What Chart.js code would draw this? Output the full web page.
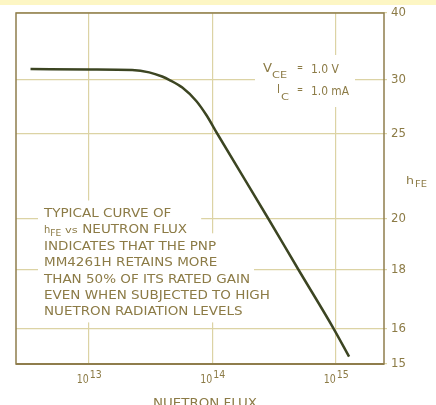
<!DOCTYPE html>
<html>
<head>
<meta charset="utf-8">
<script src="https://cdn.jsdelivr.net/npm/chart.js@4"></script>
<style>
  html, body { margin: 0; padding: 0; background: #fff; }
</style>
</head>
<body>
<canvas id="fluxChart" width="436" height="405"></canvas>
<script>
// neutron flux (x, log) vs hFE (y, on the graph paper's own non-linear scale)
const flux = [3.37e12, 1e13, 2.24e13, 3.08e13, 3.92e13, 4.47e13, 5.71e13, 7.41e13, 8.94e13, 1.10e14, 2.85e14, 5.0e14, 9.64e14, 1.28e15];
const hfe = [31.23, 31.17, 31.11, 30.83, 30.34, 29.97, 29.14, 27.81, 26.54, 25, 20, 18, 16, 15.2];
const fluxTicks = [1e13, 1e14, 1e15];
const fluxExponents = ['13', '14', '15'];
const hfeTicks = [40, 30, 25, 20, 18, 16, 15];
const noteLines = [
    'TYPICAL CURVE OF',
    'hFE vs NEUTRON FLUX',
    'INDICATES THAT THE PNP',
    'MM4261H RETAINS MORE',
    'THAN 50% OF ITS RATED GAIN',
    'EVEN WHEN SUBJECTED TO HIGH',
    'NUETRON RADIATION LEVELS'
];

// where each hFE ruling sits on the printed paper (fraction of plot height from the top)
const paperRulings = [0, 0.1895, 0.3447, 0.5869, 0.7322, 0.9003, 1];

// linear scale re-mapped onto the paper rulings; reciprocal between rulings
class PaperScale extends Chart.LinearScale {
    static id = 'paper';
    static defaults = {};
    _fracForValue(v) {
        let i = 0;
        while (i < hfeTicks.length - 2 && v < hfeTicks[i + 1]) i++;
        const a = 1 / hfeTicks[i], b = 1 / hfeTicks[i + 1];
        const t = (1 / v - a) / (b - a);
        return paperRulings[i] + t * (paperRulings[i + 1] - paperRulings[i]);
    }
    getPixelForValue(value) {
        if (value === null || value === undefined || isNaN(value)) return NaN;
        return this.top + this._fracForValue(value) * (this.bottom - this.top);
    }
    getValueForPixel(pixel) {
        const f = (pixel - this.top) / (this.bottom - this.top);
        let i = 0;
        while (i < paperRulings.length - 2 && f > paperRulings[i + 1]) i++;
        const t = (f - paperRulings[i]) / (paperRulings[i + 1] - paperRulings[i]);
        const a = 1 / hfeTicks[i], b = 1 / hfeTicks[i + 1];
        return 1 / (a + t * (b - a));
    }
}
Chart.register(PaperScale);

const FONT = "'Liberation Sans Narrow', 'DejaVu Sans Condensed', 'DejaVu Sans', sans-serif";
const inkColor = '#8c7b46';
const gridColor = '#dcd3a4';

// draw text, optionally squeezed/stretched to a target width; returns the drawn width
function drawText(ctx, text, x, y, size, width, align) {
    ctx.font = size + 'px ' + FONT;
    const w = ctx.measureText(text).width;
    const sx = width ? width / w : 1;
    const dw = w * sx;
    let left = x;
    if (align === 'right') left = x - dw;
    if (align === 'center') left = x - dw / 2;
    ctx.save();
    ctx.translate(left, y);
    ctx.scale(sx, 1);
    ctx.textAlign = 'left';
    ctx.textBaseline = 'alphabetic';
    ctx.fillText(text, 0, 0);
    ctx.restore();
    return dw;
}

const paperText = {
    id: 'paperText',
    beforeDraw(chart) {
        const ctx = chart.ctx;
        ctx.save();
        ctx.fillStyle = '#fdf6c4';
        ctx.fillRect(0, 0, chart.width, 5);
        ctx.restore();
    },
    beforeDatasetsDraw(chart) {
        const ctx = chart.ctx;
        const xs = chart.scales.x;
        ctx.save();

        // white cut-outs behind the labels
        ctx.fillStyle = '#fff';
        ctx.fillRect(255, 55, 100, 52);

        ctx.font = '12px ' + FONT;
        const sx = 206 / ctx.measureText(noteLines[4]).width;
        noteLines.forEach((line, i) => {
            const top = 208 + i * 16.4;
            ctx.font = '12px ' + FONT;
            const w = ctx.measureText(line).width * sx;
            const bottomPad = i === noteLines.length - 1 ? 16 : 9;
            ctx.fillStyle = '#fff';
            ctx.fillRect(38, top - 7.5, w + 10, 7.5 + bottomPad);
        });

        ctx.fillStyle = inkColor;
        noteLines.forEach((line, i) => {
            const base = 217 + i * 16.4;
            if (i === 1) {
                let x = 44;
                x += drawText(ctx, 'h', x, base, 11, null);
                x += drawText(ctx, 'FE', x, base + 3, 9, 11);
                x += drawText(ctx, ' vs ', x, base, 9.5, 20);
                ctx.font = '12px ' + FONT;
                drawText(ctx, 'NEUTRON FLUX', x + 1, base, 12, ctx.measureText('NEUTRON FLUX').width * sx);
            } else {
                ctx.font = '12px ' + FONT;
                drawText(ctx, line, 44, base, 12, ctx.measureText(line).width * sx);
            }
        });

        // test conditions
        drawText(ctx, 'V', 263, 72, 12, 9);
        drawText(ctx, 'CE', 272, 78, 9.5, 15);
        drawText(ctx, '=', 297, 71, 10, 6);
        drawText(ctx, '1.0 V', 311, 73, 12, 28);
        drawText(ctx, 'I', 277, 93, 12, 3);
        drawText(ctx, 'C', 281, 100, 9.5, 8);
        drawText(ctx, '=', 297, 93, 10, 6);
        drawText(ctx, '1.0 mA', 311, 95, 12, 38);

        // x tick labels with superscript exponents
        fluxTicks.forEach((v, i) => {
            const px = xs.getPixelForValue(v);
            drawText(ctx, '10', px, 383, 12, 12, 'right');
            drawText(ctx, fluxExponents[i], px + 1, 378, 10.5, 12);
        });
        drawText(ctx, 'NUETRON FLUX', 205, 407, 12, 104, 'center');

        // y axis title
        drawText(ctx, 'h', 406, 184, 11, 8);
        drawText(ctx, 'FE', 415, 187, 9, 12);

        ctx.restore();
    },
    afterDatasetsDraw(chart) {
        const { ctx, chartArea: a } = chart;
        ctx.save();
        ctx.strokeStyle = '#8f7d4c';
        ctx.lineWidth = 1.5;
        ctx.strokeRect(a.left, a.top, a.right - a.left, a.bottom - a.top);
        ctx.lineWidth = 2;
        ctx.beginPath();
        ctx.moveTo(a.left, a.bottom);
        ctx.lineTo(a.right, a.bottom);
        ctx.stroke();
        ctx.restore();
    }
};

const ctx = document.querySelector('#fluxChart').getContext('2d');
const fluxChart = new Chart(ctx, {
    type: 'line',
    data: {
        datasets: [{
            label: 'hFE',
            data: flux.map((f, i) => ({ x: f, y: hfe[i] })),
            borderColor: '#3c4522',
            borderWidth: 2.5,
            pointRadius: 0,
            cubicInterpolationMode: 'monotone',
            fill: false
        }]
    },
    options: {
        responsive: false,
        animation: false,
        layout: { padding: { left: 16, top: 13, right: 0, bottom: 0 } },
        plugins: {
            legend: { display: false },
            tooltip: { enabled: false }
        },
        scales: {
            x: {
                type: 'logarithmic',
                min: Math.pow(10, 12.41),
                max: Math.pow(10, 15.39),
                afterBuildTicks: (scale) => {
                    scale.ticks = fluxTicks.map(v => ({ value: v }));
                },
                afterFit: (scale) => { scale.height = 41; },
                ticks: { display: false },
                grid: { color: gridColor, lineWidth: 1.2, drawTicks: false },
                border: { display: false }
            },
            y: {
                type: 'paper',
                position: 'right',
                min: 15,
                max: 40,
                afterBuildTicks: (scale) => {
                    scale.ticks = hfeTicks.map(v => ({ value: v }));
                },
                afterFit: (scale) => { scale.width = 52; },
                ticks: {
                    callback: (v) => String(v),
                    color: inkColor,
                    font: { family: FONT, size: 13 },
                    padding: 4
                },
                grid: { color: gridColor, lineWidth: 1.2, tickLength: 3 },
                border: { display: false }
            }
        }
    },
    plugins: [paperText]
});
</script>
</body>
</html>
